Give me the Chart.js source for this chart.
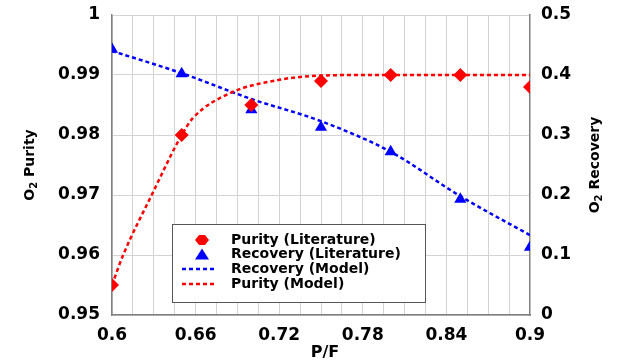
<!DOCTYPE html>
<html>
<head>
<meta charset="utf-8">
<script src="https://cdn.jsdelivr.net/npm/chart.js@4/dist/chart.umd.min.js"></script>
<style>
html,body{margin:0;padding:0;background:#fff;}
#wrap{width:624px;height:363px;position:relative;}
</style>
</head>
<body>
<div id="wrap"><canvas id="c" width="624" height="363"></canvas></div>
<script>
// ---- data ----
const pfLit = [0.6, 0.65, 0.7, 0.75, 0.8, 0.85, 0.9];
const purityLit = [0.955, 0.98, 0.985, 0.989, 0.99, 0.99, 0.988];
const recoveryLit = [0.443, 0.402, 0.342, 0.313, 0.272, 0.193, 0.113];
const pfRecoveryModel = [0.6, 0.65, 0.7, 0.75, 0.8, 0.85, 0.9];
const recoveryModel = [0.44, 0.403, 0.36, 0.323, 0.272, 0.198, 0.133];
const pfPurityModel = [0.6, 0.608, 0.6285, 0.65, 0.658, 0.685, 0.72, 0.75, 0.78, 0.8, 0.85, 0.9];
const purityModel = [0.955, 0.96, 0.97, 0.98, 0.9828, 0.987, 0.9892, 0.9899, 0.99, 0.99, 0.99, 0.99];
const xTickLabels = ['0.6', '0.66', '0.72', '0.78', '0.84', '0.9'];
const yLeftTickLabels = ['0.95', '0.96', '0.97', '0.98', '0.99', '1'];
const yRightTickLabels = ['0', '0.1', '0.2', '0.3', '0.4', '0.5'];
const seriesLabels = ['Purity (Literature)', 'Recovery (Literature)', 'Recovery (Model)', 'Purity (Model)'];
const xTitle = 'P/F';
const yLeftTitle = ['O', '2', ' Purity'];
const yRightTitle = ['O', '2', ' Recovery'];

const pts = (xs, ys) => xs.map((x, i) => ({x: x, y: ys[i]}));
const FONT = 'DejaVu Sans';
const RED = '#ff0000', BLUE = '#0000ff';

const titlePlugin = {
  id: 'titles',
  afterDraw(chart) {
    const ctx = chart.ctx;
    const ca = chart.chartArea;
    const cy = (ca.top + ca.bottom) / 2;
    function rotTitle(parts, x) {
      ctx.save();
      ctx.translate(x, cy);
      ctx.rotate(-Math.PI / 2);
      ctx.fillStyle = '#000';
      ctx.textBaseline = 'middle';
      const big = 'bold 14px "' + FONT + '"', small = 'bold 10px "' + FONT + '"';
      ctx.font = big; const w0 = ctx.measureText(parts[0]).width;
      ctx.font = small; const w1 = ctx.measureText(parts[1]).width;
      ctx.font = big; const w2 = ctx.measureText(parts[2]).width;
      let sx = -(w0 + w1 + w2) / 2;
      ctx.textAlign = 'left';
      ctx.font = big; ctx.fillText(parts[0], sx, 0); sx += w0;
      ctx.font = small; ctx.fillText(parts[1], sx, 4); sx += w1;
      ctx.font = big; ctx.fillText(parts[2], sx, 0);
      ctx.restore();
    }
    rotTitle(yLeftTitle, 30);
    rotTitle(yRightTitle, 595);
    ctx.save();
    ctx.font = 'bold 16px "' + FONT + '"';
    ctx.fillStyle = '#000';
    ctx.textAlign = 'center';
    ctx.textBaseline = 'middle';
    ctx.fillText(xTitle, (ca.left + ca.right) / 2 + 4, 353);
    ctx.restore();

    // legend
    const lx = 172, ly = 224, lw = 253, lh = 78;
    ctx.save();
    ctx.fillStyle = '#fff';
    ctx.fillRect(lx, ly, lw, lh);
    ctx.strokeStyle = '#555';
    ctx.lineWidth = 1;
    ctx.strokeRect(lx + 0.5, ly + 0.5, lw, lh);
    const rows = [240, 254.5, 269, 284];
    chart.data.datasets.forEach((ds, i) => {
      const y = rows[i];
      if (ds.showLine) {
        ctx.strokeStyle = ds.borderColor;
        ctx.lineWidth = 2.5;
        ctx.setLineDash([4, 3]);
        ctx.beginPath(); ctx.moveTo(182, y); ctx.lineTo(215, y); ctx.stroke();
        ctx.setLineDash([]);
      } else {
        ctx.fillStyle = ds.backgroundColor;
        ctx.beginPath();
        if (ds.pointStyle === 'triangle') {
          ctx.moveTo(202, y - 6); ctx.lineTo(209, y + 5); ctx.lineTo(195, y + 5);
        } else {
          ctx.moveTo(195, y); ctx.lineTo(199, y - 5); ctx.lineTo(205, y - 5);
          ctx.lineTo(209, y); ctx.lineTo(205, y + 5); ctx.lineTo(199, y + 5);
        }
        ctx.closePath(); ctx.fill();
      }
      ctx.fillStyle = '#000';
      ctx.font = 'bold 14px "' + FONT + '"';
      ctx.textAlign = 'left';
      ctx.textBaseline = 'middle';
      ctx.fillText(ds.label, 231, y);
    });
    ctx.restore();
  }
};

new Chart(document.getElementById('c'), {
  type: 'scatter',
  data: {
    datasets: [
      {label: seriesLabels[0], data: pts(pfLit, purityLit), yAxisID: 'y', showLine: false,
       pointStyle: 'rectRot', pointRadius: 7, backgroundColor: RED, borderColor: RED, borderWidth: 0, order: 0},
      {label: seriesLabels[1], data: pts(pfLit, recoveryLit), yAxisID: 'y1', showLine: false,
       pointStyle: 'triangle', pointRadius: 7, backgroundColor: BLUE, borderColor: BLUE, borderWidth: 0, order: 1},
      {label: seriesLabels[2], data: pts(pfRecoveryModel, recoveryModel), yAxisID: 'y1', showLine: true,
       pointRadius: 0, borderColor: BLUE, backgroundColor: BLUE, borderWidth: 2.5, borderDash: [4, 3],
       cubicInterpolationMode: 'monotone', order: 3},
      {label: seriesLabels[3], data: pts(pfPurityModel, purityModel), yAxisID: 'y', showLine: true,
       pointRadius: 0, borderColor: RED, backgroundColor: RED, borderWidth: 2.5, borderDash: [4, 3],
       cubicInterpolationMode: 'monotone', order: 2}
    ]
  },
  options: {
    responsive: false,
    animation: false,
    events: [],
    layout: {padding: {top: 15, left: 0, right: 0, bottom: 0}},
    plugins: {legend: {display: false}, tooltip: {enabled: false}},
    scales: {
      x: {
        type: 'linear', min: 0.6, max: 0.9,
        afterBuildTicks: s => { s.ticks = []; for (let i = 0; i <= 20; i++) s.ticks.push({value: 0.6 + i * 0.015}); },
        ticks: {
          autoSkip: false, maxRotation: 0, padding: 10,
          font: {family: FONT, size: 17, weight: 'bold'}, color: '#000',
          callback: (v, i) => (i % 4 === 0 ? xTickLabels[i / 4] : '')
        },
        grid: {color: '#d4d4d4', lineWidth: 1, drawTicks: false},
        border: {color: '#808080', width: 1.5},
        afterFit: s => { s.height = 48; s.paddingLeft = 0; s.paddingRight = 0; }
      },
      y: {
        type: 'linear', position: 'left', min: 0.95, max: 1.0,
        afterBuildTicks: s => { s.ticks = yLeftTickLabels.map((t, i) => ({value: 0.95 + i * 0.01})); },
        ticks: {
          padding: 12, font: {family: FONT, size: 17, weight: 'bold'}, color: '#000',
          callback: (v, i) => yLeftTickLabels[i]
        },
        grid: {color: '#d4d4d4', lineWidth: 1, drawTicks: false},
        border: {color: '#808080', width: 1.5},
        afterFit: s => { s.width = 112; s.paddingTop = 0; s.paddingBottom = 0; }
      },
      y1: {
        type: 'linear', position: 'right', min: 0, max: 0.5,
        afterBuildTicks: s => { s.ticks = yRightTickLabels.map((t, i) => ({value: i * 0.1})); },
        ticks: {
          padding: 11, font: {family: FONT, size: 17, weight: 'bold'}, color: '#000',
          callback: (v, i) => yRightTickLabels[i]
        },
        grid: {display: false, drawTicks: false},
        border: {color: '#808080', width: 1.5},
        afterFit: s => { s.width = 94; s.paddingTop = 0; s.paddingBottom = 0; }
      }
    }
  },
  plugins: [titlePlugin]
});
</script>
</body>
</html>
